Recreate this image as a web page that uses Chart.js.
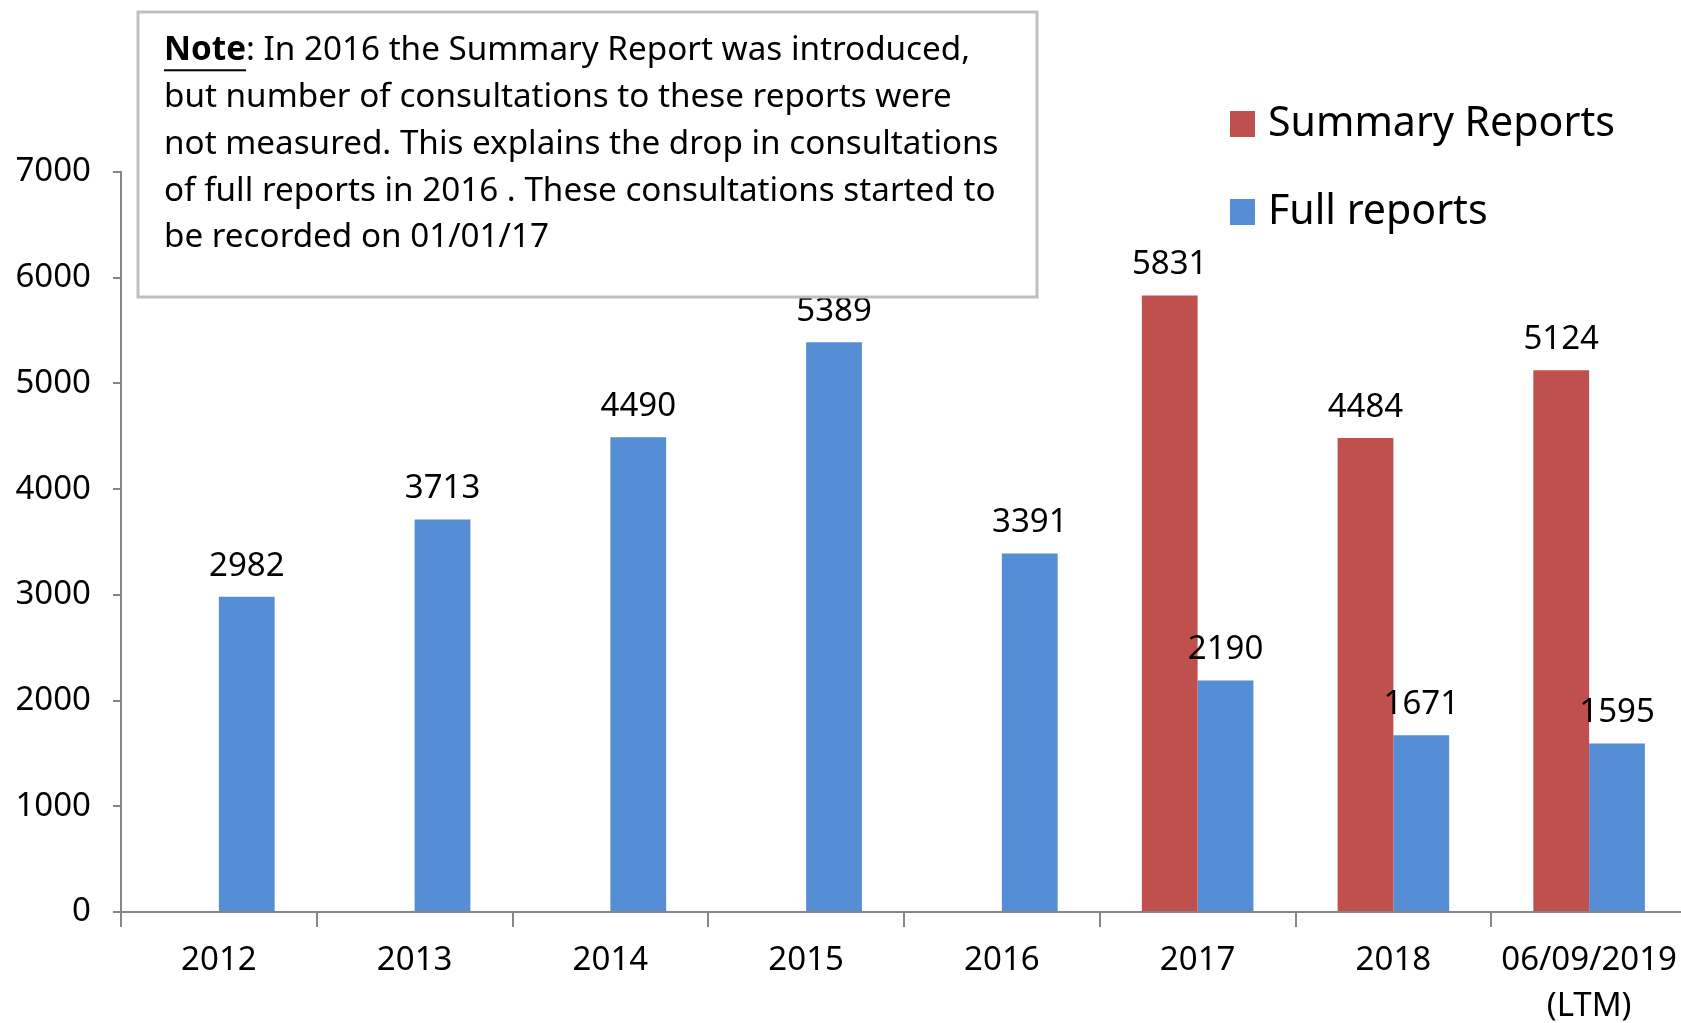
<!DOCTYPE html>
<html>
<head>
<meta charset="utf-8">
<script src="https://cdn.jsdelivr.net/npm/chart.js@4"></script>
<style>
  html, body { margin: 0; padding: 0; background: #fff; overflow: hidden; }
  #wrap { width: 1681px; height: 1023px; overflow: hidden; }
</style>
</head>
<body>
<!-- canvas is a few px wider than the page: the original plot runs past its right edge -->
<div id="wrap"><canvas id="chart" width="1687" height="1023"></canvas></div>
<script>
// chart data
const categories = ['2012', '2013', '2014', '2015', '2016', '2017', '2018', ['06/09/2019', '(LTM)']];
const summaryReports = [null, null, null, null, null, 5831, 4484, 5124];
const fullReports = [2982, 3713, 4490, 5389, 3391, 2190, 1671, 1595];
const yTicks = [0, 1000, 2000, 3000, 4000, 5000, 6000, 7000];

const noteLines = [
    'In 2016 the Summary Report was introduced,',
    'but number of consultations to these reports were',
    'not measured. This explains the drop in consultations',
    'of full reports in 2016 . These consultations started to',
    'be recorded on 01/01/17'
];

const FONT = '"Noto Sans", "Open Sans", sans-serif';
const RED = '#C0504D';
const BLUE = '#558ED5';

// pick a font size so that text fits a given width
function fitSize(ctx, text, width, weight) {
    ctx.font = (weight || '') + ' 100px ' + FONT;
    return 100 * width / ctx.measureText(text).width;
}

const valueLabels = {
    id: 'valueLabels',
    afterDatasetsDraw(chart) {
        const ctx = chart.ctx;
        ctx.save();
        ctx.font = '33px ' + FONT;
        ctx.fillStyle = '#000';
        ctx.textAlign = 'center';
        ctx.textBaseline = 'bottom';
        chart.data.datasets.forEach((ds, i) => {
            const meta = chart.getDatasetMeta(i);
            meta.data.forEach((bar, j) => {
                if (ds.data[j] == null) return;
                ctx.fillText(ds.data[j], bar.x, bar.y - 14);
            });
        });
        ctx.restore();
    }
};

const noteBox = {
    id: 'noteBox',
    afterDraw(chart) {
        const ctx = chart.ctx;
        ctx.save();
        // box
        ctx.fillStyle = '#fff';
        ctx.fillRect(138, 12, 899, 285);
        ctx.strokeStyle = '#BFBFBF';
        ctx.lineWidth = 3;
        ctx.strokeRect(138, 12, 899, 285);

        // text, sized so the longest line matches the picture
        const size = fitSize(ctx, noteLines[2], 835);
        const x0 = 164;
        const ys = [51, 98, 145, 192, 238];
        ctx.fillStyle = '#000';
        ctx.textBaseline = 'middle';
        ctx.textAlign = 'left';

        ctx.font = 'bold ' + size + 'px ' + FONT;
        const noteW = ctx.measureText('Note').width;
        ctx.fillText('Note', x0, ys[0]);
        ctx.fillRect(x0, ys[0] + size * 0.55, noteW, 2);
        ctx.font = size + 'px ' + FONT;
        ctx.fillText(':', x0 + noteW, ys[0]);
        const colonW = ctx.measureText(': ').width;
        ctx.fillText(noteLines[0], x0 + noteW + colonW, ys[0]);
        for (let i = 1; i < noteLines.length; i++) {
            ctx.fillText(noteLines[i], x0, ys[i]);
        }
        ctx.restore();
    }
};

const sideLegend = {
    id: 'sideLegend',
    afterDraw(chart) {
        const ctx = chart.ctx;
        ctx.save();
        const size = fitSize(ctx, 'Summary Reports', 347);
        ctx.font = size + 'px ' + FONT;
        ctx.textBaseline = 'middle';
        ctx.textAlign = 'left';
        const rows = [
            { label: chart.data.datasets[0].label, color: RED, y: 124 },
            { label: chart.data.datasets[1].label, color: BLUE, y: 212 }
        ];
        rows.forEach(r => {
            ctx.fillStyle = r.color;
            ctx.fillRect(1230, r.y - 13, 25, 26);
            ctx.fillStyle = '#000';
            ctx.fillText(r.label, 1268, r.y);
        });
        ctx.restore();
    }
};

new Chart(document.getElementById('chart'), {
    type: 'bar',
    data: {
        labels: categories,
        datasets: [{
            label: 'Summary Reports',
            data: summaryReports,
            backgroundColor: RED,
            categoryPercentage: 0.57,
            barPercentage: 1.0
        }, {
            label: 'Full reports',
            data: fullReports,
            backgroundColor: BLUE,
            categoryPercentage: 0.57,
            barPercentage: 1.0
        }]
    },
    options: {
        responsive: false,
        animation: false,
        layout: { padding: { top: 172, left: 0, right: 0, bottom: 0 } },
        plugins: {
            legend: { display: false },
            tooltip: { enabled: false }
        },
        scales: {
            x: {
                afterFit: (scale) => { scale.height = 111; },
                grid: {
                    drawOnChartArea: false,
                    drawTicks: true,
                    tickLength: 15,
                    color: '#868686',
                    lineWidth: 2
                },
                border: { color: '#868686', width: 2 },
                ticks: {
                    color: '#000',
                    padding: 10,
                    maxRotation: 0,
                    autoSkip: false,
                    font: { family: FONT, size: 33, lineHeight: 1.4 }
                }
            },
            y: {
                min: 0,
                max: 7000,
                afterFit: (scale) => { scale.width = 121; },
                afterBuildTicks: (scale) => {
                    scale.ticks = yTicks.map(v => ({ value: v }));
                },
                grid: {
                    drawOnChartArea: false,
                    drawTicks: true,
                    tickLength: 8,
                    color: '#868686',
                    lineWidth: 2
                },
                border: { color: '#868686', width: 2 },
                ticks: {
                    color: '#000',
                    padding: 22,
                    font: { family: FONT, size: 33 },
                    callback: (v) => String(v)
                }
            }
        }
    },
    plugins: [valueLabels, noteBox, sideLegend]
});
</script>
</body>
</html>
